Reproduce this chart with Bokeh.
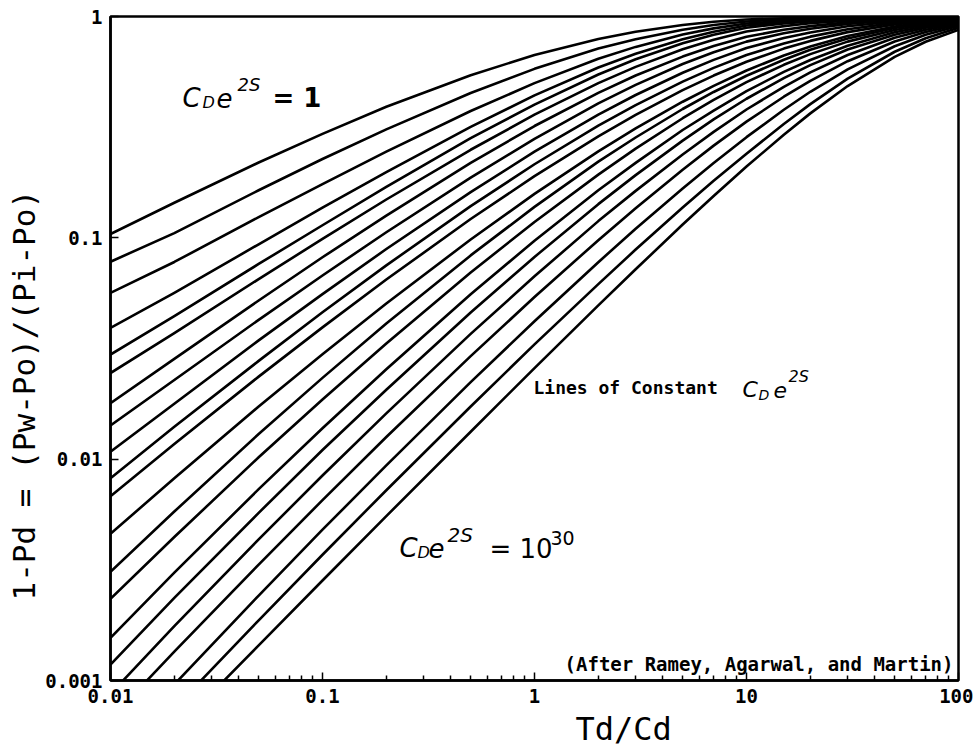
import math
from bokeh.plotting import figure
from bokeh.models import Label, Title, FixedTicker, CustomJSTickFormatter
from bokeh.embed import file_html
from bokeh.resources import INLINE

# Td/Cd sample points
td_cd = [0.01, 0.02, 0.05, 0.1, 0.2, 0.5, 1, 2, 3, 5, 7, 10, 15, 20, 30, 50, 70, 100]

# 1 - Pd along td_cd, one list per curve of constant C_D e^{2S},
# from C_D e^{2S} = 1 (top) down to C_D e^{2S} = 10^30 (bottom)
c01 = [0.104, 0.144, 0.219, 0.295, 0.391, 0.543, 0.670, 0.792, 0.854, 0.916, 0.947, 0.970, 0.982, 0.987, 0.992, 0.995, 0.996, 0.997]
c02 = [0.078, 0.105, 0.164, 0.227, 0.309, 0.451, 0.580, 0.716, 0.790, 0.872, 0.915, 0.950, 0.970, 0.979, 0.987, 0.993, 0.995, 0.996]
c03 = [0.0564, 0.0778, 0.124, 0.175, 0.245, 0.374, 0.500, 0.644, 0.729, 0.829, 0.884, 0.930, 0.957, 0.970, 0.982, 0.990, 0.993, 0.995]
c04 = [0.0392, 0.0564, 0.0935, 0.137, 0.198, 0.317, 0.440, 0.588, 0.679, 0.790, 0.854, 0.910, 0.944, 0.961, 0.977, 0.987, 0.991, 0.994]
c05 = [0.0297, 0.0443, 0.0762, 0.114, 0.170, 0.282, 0.400, 0.547, 0.641, 0.757, 0.827, 0.890, 0.931, 0.951, 0.971, 0.985, 0.990, 0.993]
c06 = [0.0245, 0.0371, 0.0651, 0.0989, 0.149, 0.250, 0.360, 0.500, 0.592, 0.711, 0.785, 0.855, 0.905, 0.932, 0.958, 0.978, 0.986, 0.991]
c07 = [0.0179, 0.0284, 0.0521, 0.0817, 0.126, 0.218, 0.320, 0.452, 0.541, 0.659, 0.735, 0.810, 0.871, 0.905, 0.941, 0.970, 0.981, 0.989]
c08 = [0.0142, 0.0228, 0.0426, 0.0676, 0.106, 0.187, 0.280, 0.405, 0.491, 0.610, 0.689, 0.770, 0.840, 0.881, 0.925, 0.962, 0.977, 0.987]
c09 = [0.0108, 0.0178, 0.0344, 0.0557, 0.0890, 0.161, 0.245, 0.360, 0.442, 0.557, 0.637, 0.720, 0.799, 0.847, 0.903, 0.950, 0.971, 0.984]
c10 = [0.0082, 0.0140, 0.0278, 0.0461, 0.0751, 0.139, 0.215, 0.321, 0.398, 0.508, 0.586, 0.670, 0.756, 0.811, 0.876, 0.936, 0.962, 0.980]
c11 = [0.0068, 0.0117, 0.0236, 0.0394, 0.0648, 0.1216, 0.190, 0.2875, 0.359, 0.465, 0.541, 0.625, 0.716, 0.776, 0.850, 0.921, 0.953, 0.975]
c12 = [0.0046, 0.0082, 0.0173, 0.0298, 0.0505, 0.0983, 0.158, 0.246, 0.312, 0.412, 0.486, 0.570, 0.667, 0.732, 0.817, 0.902, 0.942, 0.970]
c13 = [0.0031, 0.0058, 0.0130, 0.0233, 0.0410, 0.0833, 0.138, 0.221, 0.284, 0.382, 0.456, 0.540, 0.638, 0.707, 0.796, 0.887, 0.931, 0.963]
c14 = [0.00234, 0.00445, 0.0102, 0.0186, 0.0333, 0.0697, 0.118, 0.193, 0.253, 0.347, 0.420, 0.505, 0.605, 0.676, 0.770, 0.869, 0.918, 0.955]
c15 = [0.00156, 0.00307, 0.00732, 0.0138, 0.0255, 0.0556, 0.097, 0.164, 0.218, 0.307, 0.376, 0.460, 0.562, 0.636, 0.737, 0.848, 0.904, 0.947]
c16 = [0.00118, 0.00236, 0.00572, 0.0110, 0.0206, 0.0460, 0.082, 0.142, 0.192, 0.275, 0.343, 0.425, 0.527, 0.603, 0.709, 0.827, 0.889, 0.938]
c17 = [0.00087, 0.00176, 0.00434, 0.00844, 0.0161, 0.0368, 0.067, 0.119, 0.163, 0.238, 0.301, 0.380, 0.481, 0.559, 0.670, 0.801, 0.871, 0.928]
c18 = [0.00067, 0.00135, 0.00334, 0.00653, 0.0126, 0.0292, 0.054, 0.0976, 0.136, 0.203, 0.261, 0.335, 0.434, 0.512, 0.628, 0.771, 0.851, 0.917]
c19 = [0.00047, 0.00096, 0.00242, 0.0048, 0.00937, 0.0223, 0.042, 0.0776, 0.110, 0.167, 0.218, 0.285, 0.379, 0.457, 0.577, 0.734, 0.827, 0.905]
c20 = [0.00037, 0.000748, 0.00187, 0.0037, 0.00724, 0.0173, 0.033, 0.0618, 0.0885, 0.137, 0.181, 0.240, 0.327, 0.402, 0.524, 0.693, 0.798, 0.890]
c21 = [0.00030, 0.000591, 0.00144, 0.00283, 0.00553, 0.0133, 0.0258, 0.0495, 0.0721, 0.1148, 0.1545, 0.210, 0.292, 0.365, 0.485, 0.657, 0.769, 0.870]

curves = [c01, c02, c03, c04, c05, c06, c07, c08, c09, c10, c11,
          c12, c13, c14, c15, c16, c17, c18, c19, c20, c21]

x_ticks = [0.01, 0.1, 1, 10, 100]
y_ticks = [0.001, 0.01, 0.1, 1]

W, H = 973, 753
BL, BR, BT, BB = 110, 15, 16, 73

p = figure(width=W, height=H, x_axis_type="log", y_axis_type="log",
           x_range=(0.01, 100), y_range=(0.001, 1),
           output_backend="svg", toolbar_location=None,
           min_border_left=BL, min_border_right=BR,
           min_border_top=BT, min_border_bottom=BB)
p.background_fill_color = "white"
p.border_fill_color = "white"
p.outline_line_color = "black"
p.outline_line_width = 2.5
p.grid.visible = False


def at(px, py):
    """Canvas pixel position -> data coordinates on the log axes."""
    fx = (px - BL) / (W - BL - BR)
    fy = (py - BT) / (H - BT - BB)
    return 10 ** (-2 + 4 * fx), 10 ** (-3 * fy)


for ys in curves:
    p.line(td_cd, ys, line_color="black", line_width=2.6, line_join="round")

minor = [k * 10.0 ** d for d in range(-2, 2) for k in range(2, 10)]
p.xaxis.ticker = FixedTicker(ticks=x_ticks, minor_ticks=minor)
p.yaxis.ticker = FixedTicker(ticks=y_ticks, minor_ticks=[])
p.xaxis.formatter = CustomJSTickFormatter(code="return tick.toString();")
p.yaxis.formatter = CustomJSTickFormatter(code="return tick.toString();")

for ax in (p.xaxis[0], p.yaxis[0]):
    ax.axis_line_width = 2.5
    ax.axis_line_color = "black"
    ax.major_tick_in = 8
    ax.major_tick_out = 0
    ax.minor_tick_in = 5
    ax.minor_tick_out = 0
    ax.major_tick_line_width = 1.5
    ax.minor_tick_line_width = 1.5
    ax.major_label_text_font = "DejaVu Sans Mono"
    ax.major_label_text_font_style = "bold"
    ax.major_label_text_font_size = "19px"
    ax.major_label_text_color = "black"
    ax.major_label_standoff = 8
p.yaxis.minor_tick_line_color = None

# axis titles, placed off-centre along their axes
p.add_layout(Title(text="Td/Cd", align="left", offset=465,
                   text_font="DejaVu Sans Mono", text_font_size="32px",
                   text_font_style="normal", text_color="black",
                   standoff=5), "below")
p.add_layout(Title(text="1-Pd = (Pw-Po)/(Pi-Po)", align="left", offset=80,
                   text_font="DejaVu Sans Mono", text_font_size="31px",
                   text_font_style="normal", text_color="black",
                   standoff=2), "left")


def put(px, py, text, size, font="DejaVu Sans", style="normal",
        align="left", baseline="alphabetic"):
    x, y = at(px, py)
    p.add_layout(Label(x=x, y=y, text=text, text_font=font,
                       text_font_size=size, text_font_style=style,
                       text_color="black", text_align=align,
                       text_baseline=baseline))


def cde2s(px, py, big, sub, sup, step):
    """C_D e^{2S} written from baseline point (px, py)."""
    put(px, py, "C", big, style="italic")
    put(px + step[0], py + 5, "D", sub, style="italic")
    put(px + step[1], py, "e", big, style="italic")
    put(px + step[2], py - 13, "2S", sup, style="italic")


cde2s(182, 97, "26px", "16px", "18px", (20, 34, 55))
put(272, 97, "= 1", "26px", style="bold")

put(533, 387, "Lines of Constant", "18px", font="DejaVu Sans Mono", style="bold")
cde2s(742, 389, "22px", "14px", "16px", (16, 31, 46))

cde2s(399, 547, "26px", "16px", "20px", (18, 29, 48))
put(489, 548, "= 10", "26px")
put(550, 537, "30", "19px")

put(953, 663, "(After Ramey, Agarwal, and Martin)", "19px",
    font="DejaVu Sans Mono", style="bold", align="right")

open("out.html", "w").write(file_html(p, INLINE))
